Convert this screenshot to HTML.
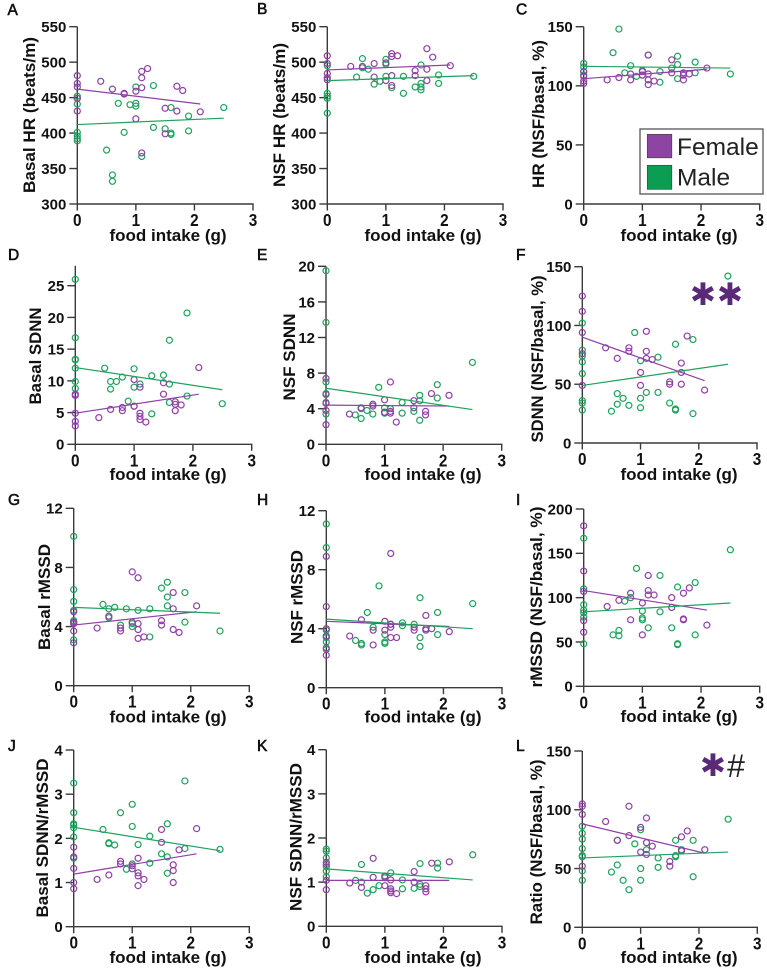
<!DOCTYPE html>
<html lang="en">
<head>
<meta charset="utf-8">
<title>Food intake correlations</title>
<style>
html,body{margin:0;padding:0;background:#fff;width:767px;height:971px;overflow:hidden}
svg{display:block;font-family:"Liberation Sans",sans-serif}
</style>
</head>
<body>
<svg id="figure" width="767" height="971" viewBox="0 0 767 971" xmlns="http://www.w3.org/2000/svg">
  <g>
    <rect x="640" y="129" width="123" height="65" fill="#fff" stroke="#555" stroke-width="1.3"/>
    <rect x="647.3" y="134.3" width="24.5" height="23.5" fill="#8e44a2" stroke="#444" stroke-width="0.7"/>
    <text x="677" y="155" font-size="24.5" fill="#222">Female</text>
    <rect x="647.3" y="165.3" width="24.5" height="24" fill="#0b9e52" stroke="#444" stroke-width="0.7"/>
    <text x="677" y="185.7" font-size="24.5" fill="#222">Male</text>
  </g>
  <text x="703" y="305" font-size="31" text-anchor="middle" fill="#5a2a78" style="font-family:'DejaVu Sans',sans-serif">✱</text>
  <text x="730" y="305" font-size="31" text-anchor="middle" fill="#5a2a78" style="font-family:'DejaVu Sans',sans-serif">✱</text>
  <text x="713" y="776" font-size="31" text-anchor="middle" fill="#5a2a78" style="font-family:'DejaVu Sans',sans-serif">✱</text>
  <text x="736" y="777" font-size="32" text-anchor="middle" fill="#222">#</text>
</svg>
<script>
const xTicks = [0, 1, 2, 3];

const aTicks = [300, 350, 400, 450, 500, 550];
const aFemale = [[0,481],[0,470],[0,465],[0,449],[0,431],[.4,473],[.6,462],[.8,456],[.8,455],[1,459],[1,420],[1.1,487],[1.1,478],[1.1,464],[1.1,372],[1.2,491],[1.5,435],[1.5,399],[1.7,466],[1.7,431],[1.8,460],[2.1,430]];
const aMale = [[0,452],[0,449],[0,441],[0,401],[0,396],[0,392],[0,389],[.5,376],[.6,341],[.6,332],[.7,442],[.8,401],[.9,440],[1,465],[1,442],[1,438],[1.1,367],[1.3,467],[1.3,408],[1.5,406],[1.6,436],[1.6,400],[1.6,398],[1.9,424],[1.9,403],[2.5,436]];
const aFemaleFit = [[0,462],[2.1,441]];
const aMaleFit = [[0,412],[2.5,421]];

const bTicks = [300, 350, 400, 450, 500, 550];
const bFemale = [[0,509],[0,498],[0,484],[0,478],[0,475],[.4,494],[.6,494],[.8,498],[.8,479],[1,499],[1,474],[1.1,512],[1.1,508],[1.1,481],[1.1,467],[1.2,509],[1.5,488],[1.5,481],[1.7,519],[1.7,490],[1.7,474],[1.8,507],[2.1,495]];
const bMale = [[0,495],[0,456],[0,452],[0,449],[0,428],[.5,479],[.6,505],[.6,492],[.7,490],[.8,469],[.9,473],[1,504],[1,497],[1,480],[1.1,464],[1.3,480],[1.3,456],[1.5,465],[1.6,496],[1.6,470],[1.6,465],[1.6,461],[1.9,482],[1.9,470],[2.5,480]];
const bFemaleFit = [[0,489],[2.1,496]];
const bMaleFit = [[0,474],[2.5,481]];

const cTicks = [0, 50, 100, 150];
const cFemale = [[0,112],[0,108],[0,104],[0,102],[.4,105],[.6,107],[.8,110],[.8,105],[1,112],[1,109],[1.1,126],[1.1,110],[1.1,105],[1.1,101],[1.2,104],[1.5,122],[1.5,111],[1.7,111],[1.7,109],[1.7,105],[1.8,110],[2.1,115]];
const cMale = [[0,119],[0,116],[0,112],[0,109],[.5,128],[.6,148],[.7,111],[.8,117],[.9,108],[1,113],[1,109],[1.1,126],[1.3,112],[1.3,103],[1.5,115],[1.6,125],[1.6,118],[1.6,106],[1.9,120],[1.9,111],[2.5,110]];
const cFemaleFit = [[0,106],[2.1,114]];
const cMaleFit = [[0,116.5],[2.5,115]];

const dTicks = [0, 5, 10, 15, 20, 25];
const dFemale = [[0,7.9],[0,7.7],[0,4.9],[0,3.6],[0,2.9],[.4,4.2],[.6,5.5],[.8,5.8],[.8,5.3],[1,10.2],[1,6],[1.1,9],[1.1,4.9],[1.1,4.4],[1.1,3.9],[1.2,3.5],[1.5,9.7],[1.5,7.9],[1.7,6.7],[1.7,6.3],[1.7,5.3],[1.8,6.2],[2.1,12.1]];
const dMale = [[0,26],[0,16.8],[0,13.4],[0,13.3],[0,12],[0,9.9],[0,8.8],[.5,12],[.6,9.9],[.6,8.7],[.7,9.9],[.8,10.6],[.9,6.8],[1,11.9],[1,9],[1,6],[1.1,9.5],[1.3,10.8],[1.3,4.8],[1.5,10.9],[1.6,16.4],[1.6,9.5],[1.6,6.6],[1.9,20.7],[1.9,7.6],[2.5,6.4]];
const dFemaleFit = [[0,4.9],[2.1,7.9]];
const dMaleFit = [[0,12.1],[2.5,8.6]];

const eTicks = [0, 4, 8, 12, 16, 20];
const eFemale = [[0,7.4],[0,5.6],[0,4.6],[0,3.8],[0,2.2],[.4,3.4],[.6,4.1],[.8,4.5],[.8,4.3],[1,5],[1,3.6],[1.1,7],[1.1,3.7],[1.1,3.5],[1.2,2.5],[1.5,4.9],[1.5,4.1],[1.7,3.7],[1.7,3.3],[1.8,5.7],[2.1,5.5]];
const eMale = [[0,19.5],[0,13.7],[0,7],[0,5.7],[0,4.7],[0,3.4],[.5,3.3],[.6,4],[.6,2.9],[.7,3.8],[.8,3.4],[.9,6.4],[1,4.1],[1,3.6],[1,3.5],[1.1,4],[1.3,4.7],[1.3,3.5],[1.5,3.7],[1.6,5.5],[1.6,4.9],[1.6,2.7],[1.9,6.7],[1.9,5.2],[2.5,9.2]];
const eFemaleFit = [[0,4.4],[2.1,4.3]];
const eMaleFit = [[0,6.3],[2.5,3.9]];

const fTicks = [0, 50, 100, 150];
const fFemale = [[0,125],[0,112],[0,94],[0,76],[0,49],[.4,81],[.6,72],[.8,81],[.8,78],[1,60],[1,49],[1.1,95],[1.1,78],[1.1,72],[1.2,71],[1.5,52],[1.5,50],[1.7,68],[1.7,60],[1.7,50],[1.8,91],[2.1,45]];
const fMale = [[0,102],[0,79],[0,74],[0,69],[0,59],[0,36],[0,34],[0,28],[.5,27],[.6,42],[.6,33],[.7,38],[.8,32],[.9,94],[1,70],[1,38],[1,30],[1.1,43],[1.3,73],[1.3,43],[1.5,34],[1.6,84],[1.6,29],[1.6,28],[1.9,88],[1.9,25],[2.5,142]];
const fFemaleFit = [[0,90],[2.1,53]];
const fMaleFit = [[0,49],[2.5,67]];

const gTicks = [0, 4, 8, 12];
const gFemale = [[0,5],[0,4.3],[0,4.2],[0,3.7],[0,2.9],[.4,3.9],[.6,4.7],[.8,3.9],[.8,3.7],[1,7.7],[1,4.3],[1.1,7.3],[1.1,4.2],[1.1,3.8],[1.1,3.2],[1.2,3.3],[1.5,4.4],[1.5,4.1],[1.7,6.3],[1.7,5.2],[1.7,3.8],[1.8,3.6],[2.1,5.4]];
const gMale = [[0,10.1],[0,6.5],[0,5.7],[0,5.1],[0,4.4],[0,4.2],[0,3.1],[.5,5.5],[.6,5.2],[.6,4.6],[.7,5.3],[.8,4.1],[.9,5.2],[1,4.2],[1,4],[1.1,5.1],[1.3,5.2],[1.3,3.3],[1.5,6.6],[1.6,7],[1.6,6],[1.6,5.4],[1.9,6.3],[1.9,4.3],[2.5,3.7]];
const gFemaleFit = [[0,4.1],[2.1,5]];
const gMaleFit = [[0,5.3],[2.5,4.9]];

const hTicks = [0, 4, 8, 12];
const hFemale = [[0,8.9],[0,5.5],[0,4],[0,3.5],[0,2.7],[0,2.2],[.4,3.5],[.6,4.6],[.8,3.9],[.8,2.9],[1,4.5],[1,3.9],[1.1,9.1],[1.1,4.3],[1.1,4.1],[1.1,3.4],[1.2,3.4],[1.5,4.1],[1.5,3.9],[1.7,4.9],[1.7,4],[1.7,3.9],[1.8,4],[2.1,3.8]];
const hMale = [[0,11.1],[0,9.5],[0,3.9],[0,3.5],[0,3.4],[0,3.1],[0,2.6],[.5,3.2],[.6,3],[.6,2.9],[.7,5.1],[.8,4.1],[.9,6.9],[1,3.6],[1,3.1],[1,3],[1.1,4.3],[1.3,4.4],[1.3,4.2],[1.5,4.3],[1.6,6.1],[1.6,3.4],[1.6,2.8],[1.9,5.1],[1.9,3.6],[2.5,5.7]];
const hFemaleFit = [[0,4.5],[2.1,4.15]];
const hMaleFit = [[0,4.65],[2.5,4]];

const iTicks = [0, 50, 100, 150, 200];
const iFemale = [[0,181],[0,130],[0,107],[0,74],[0,61],[.4,90],[.6,97],[.8,105],[.8,75],[1,94],[1,58],[1.1,125],[1.1,108],[1.1,103],[1.2,103],[1.5,100],[1.5,89],[1.7,105],[1.7,76],[1.7,75],[1.8,111],[2.1,69]];
const iMale = [[0,167],[0,110],[0,92],[0,86],[0,83],[0,78],[0,48],[.5,58],[.6,63],[.6,57],[.7,96],[.8,100],[.9,133],[1,85],[1,77],[1,75],[1.1,66],[1.3,125],[1.3,84],[1.5,66],[1.6,112],[1.6,48],[1.6,47],[1.9,117],[1.9,58],[2.5,154]];
const iFemaleFit = [[0,108],[2.1,86]];
const iMaleFit = [[0,84],[2.5,94]];

const jTicks = [0, 1, 2, 3, 4];
const jFemale = [[0,1.8],[0,1.58],[0,1.32],[0,1],[0,.86],[.4,1.07],[.6,1.17],[.8,1.48],[.8,1.42],[1,1.38],[1,1.31],[1.1,1.55],[1.1,1.22],[1.1,1.15],[1.1,.93],[1.2,1.07],[1.5,2.2],[1.5,1.91],[1.7,1.4],[1.7,1.27],[1.7,1],[1.8,1.74],[2.1,2.22]];
const jMale = [[0,3.25],[0,2.58],[0,2.33],[0,2.3],[0,2.24],[0,2.03],[0,1.55],[.5,2.2],[.6,1.9],[.6,1.88],[.7,1.85],[.8,2.58],[.9,1.3],[1,2.77],[1,2.27],[1,1.42],[1.1,1.86],[1.3,2.05],[1.3,1.44],[1.5,1.65],[1.6,2.33],[1.6,1.58],[1.6,1.21],[1.9,3.3],[1.9,1.77],[2.5,1.75]];
const jFemaleFit = [[0,1.19],[2.1,1.65]];
const jMaleFit = [[0,2.25],[2.5,1.72]];

const kTicks = [0, 1, 2, 3, 4];
const kFemale = [[0,1.45],[0,1.4],[0,1.04],[0,.83],[.4,.98],[.6,.88],[.8,1.54],[.8,1.11],[1,1.14],[1,.92],[1.1,1.05],[1.1,.85],[1.1,.8],[1.1,.76],[1.2,.74],[1.5,1.24],[1.5,1],[1.7,.92],[1.7,.85],[1.7,.78],[1.8,1.43],[2.1,1.46]];
const kMale = [[0,1.75],[0,1.7],[0,1.55],[0,1.35],[0,1.25],[0,1.12],[.5,1.04],[.6,1.4],[.6,1],[.7,.75],[.8,.83],[.9,.92],[1,1.13],[1,1.1],[1.1,1.21],[1.3,1.05],[1.3,.85],[1.5,.86],[1.6,1.42],[1.6,.95],[1.6,.9],[1.9,1.43],[1.9,1.32],[2.5,1.62]];
const kFemaleFit = [[0,1.04],[2.1,1.04]];
const kMaleFit = [[0,1.3],[2.5,1.05]];

const lTicks = [0, 50, 100, 150];
const lFemale = [[0,105],[0,103],[0,96],[0,52],[.4,90],[.6,74],[.8,103],[.8,78],[1,85],[1,64],[1.1,93],[1.1,72],[1.1,62],[1.2,69],[1.5,56],[1.5,52],[1.7,77],[1.7,65],[1.8,82],[2.1,66]];
const lMale = [[0,86],[0,80],[0,75],[0,67],[0,61],[0,60],[0,48],[0,40],[.5,47],[.6,74],[.6,53],[.7,40],[.8,32],[.9,71],[1,83],[1,50],[1,40],[1.1,66],[1.3,59],[1.3,51],[1.6,74],[1.6,61],[1.6,60],[1.7,66],[1.9,74],[1.9,43],[2.5,92]];
const lFemaleFit = [[0,88],[2.1,63]];
const lMaleFit = [[0,59],[2.5,64]];

/* Layout of each panel (pixel frame and captions); the plotted numbers stay in the arrays above. */
const panels = [
  {id:'a',letter:'A',lx:7.5,ly:15,x0:77.3,x3:253,y0:204,yT:26.7,ticks:aTicks,axisMax:550,female:aFemale,male:aMale,ff:aFemaleFit,mf:aMaleFit,title:'Basal HR (beats/m)',tx:35,ty:115,tl:156,xc:168,xb:241},
  {id:'b',letter:'B',lx:257,ly:14,x0:327.3,x3:503,y0:204,yT:26.7,ticks:bTicks,axisMax:550,female:bFemale,male:bMale,ff:bFemaleFit,mf:bMaleFit,title:'NSF HR (beats/m)',tx:285,ty:115,tl:144,xc:423,xb:241},
  {id:'c',letter:'C',lx:516,ly:14.5,x0:583.7,x3:759.7,y0:204,yT:26.7,ticks:cTicks,axisMax:150,female:cFemale,male:cMale,ff:cFemaleFit,mf:cMaleFit,title:'HR (NSF/basal, %)',tx:544,ty:114,tl:148,xc:679,xb:241},
  {id:'d',letter:'D',lx:8,ly:260,x0:75.3,x3:251.7,y0:444.3,yT:285.7,ticks:dTicks,axisMax:28.15,female:dFemale,male:dMale,ff:dFemaleFit,mf:dMaleFit,title:'Basal SDNN',tx:41,ty:356,tl:97,xc:168,xb:480},
  {id:'e',letter:'E',lx:257,ly:260,x0:326,x3:501.7,y0:444.3,yT:266.3,ticks:eTicks,axisMax:20,female:eFemale,male:eMale,ff:eFemaleFit,mf:eMaleFit,title:'NSF SDNN',tx:295,ty:357,tl:87,xc:423,xb:480},
  {id:'f',letter:'F',lx:516,ly:260,x0:582.3,x3:757,y0:443,yT:266.7,ticks:fTicks,axisMax:150,female:fFemale,male:fMale,ff:fFemaleFit,mf:fMaleFit,title:'SDNN (NSF/basal, %)',tx:543,ty:359,tl:167,xc:679,xb:480},
  {id:'g',letter:'G',lx:8,ly:505,x0:73.7,x3:249.3,y0:685.7,yT:508.3,ticks:gTicks,axisMax:12,female:gFemale,male:gMale,ff:gFemaleFit,mf:gMaleFit,title:'Basal rMSSD',tx:50,ty:597,tl:106,xc:168,xb:722.7},
  {id:'h',letter:'H',lx:257,ly:505,x0:326.3,x3:502,y0:687.7,yT:510.7,ticks:hTicks,axisMax:12,female:hFemale,male:hMale,ff:hFemaleFit,mf:hMaleFit,title:'NSF rMSSD',tx:302.5,ty:597,tl:94,xc:423,xb:722.7},
  {id:'i',letter:'I',lx:516,ly:505,x0:583.7,x3:759.7,y0:686.3,yT:509,ticks:iTicks,axisMax:200,female:iFemale,male:iMale,ff:iFemaleFit,mf:iMaleFit,title:'rMSSD (NSF/basal, %)',tx:542,ty:597,tl:181,xc:679,xb:722},
  {id:'j',letter:'J',lx:8,ly:751,x0:73.7,x3:249.3,y0:926.7,yT:750,ticks:jTicks,axisMax:4,female:jFemale,male:jMale,ff:jFemaleFit,mf:jMaleFit,title:'Basal SDNN/rMSSD',tx:48,ty:838,tl:159,xc:168,xb:963},
  {id:'k',letter:'K',lx:257,ly:751,x0:326.3,x3:502,y0:926.3,yT:749.7,ticks:kTicks,axisMax:4,female:kFemale,male:kMale,ff:kFemaleFit,mf:kMaleFit,title:'NSF SDNN/rMSSD',tx:301.5,ty:837,tl:148,xc:423,xb:963},
  {id:'l',letter:'L',lx:516,ly:751,x0:582.3,x3:757.3,y0:927.3,yT:751,ticks:lTicks,axisMax:150,female:lFemale,male:lMale,ff:lFemaleFit,mf:lMaleFit,title:'Ratio (NSF/basal, %)',tx:542,ty:842,tl:165,xc:679,xb:963}
];

const SVGNS = 'http://www.w3.org/2000/svg';
const PURPLE = '#8f3fa6';
const GREEN = '#1ea25c';
const AXIS = '#3a3a3a';
const TEXT = '#111';

function make(tag, attrs, parent, content) {
  const node = document.createElementNS(SVGNS, tag);
  for (const key in attrs) node.setAttribute(key, attrs[key]);
  if (content !== undefined) node.textContent = content;
  parent.appendChild(node);
  return node;
}
function xScale(p, v) {
  return p.x0 + (v - xTicks[0]) / (xTicks[xTicks.length - 1] - xTicks[0]) * (p.x3 - p.x0);
}
function yScale(p, v) {
  const lo = p.ticks[0];
  const hi = p.ticks[p.ticks.length - 1];
  return p.y0 - (v - lo) / (hi - lo) * (p.y0 - p.yT);
}
function drawScatter(p, group, points, colour, sex) {
  points.forEach(function (pt) {
    const dot = make('circle', {cx: xScale(p, pt[0]), cy: yScale(p, pt[1]), r: 3, fill: 'none', stroke: colour, 'stroke-width': 1.2}, group);
    
    
  });
}
function drawFit(p, group, fit, colour, sex) {
  const line = make('line', {x1: xScale(p, fit[0][0]), y1: yScale(p, fit[0][1]), x2: xScale(p, fit[1][0]), y2: yScale(p, fit[1][1]), stroke: colour, 'stroke-width': 1.2}, group);
  
  
}

const figure = document.getElementById('figure');
const firstStatic = figure.firstElementChild;

panels.forEach(function (p) {
  const g = make('g', {}, figure);
  figure.insertBefore(g, firstStatic);
  
  

  const letter = make('text', {x: p.lx, y: p.ly, 'font-size': 15.5, fill: TEXT, stroke: TEXT, 'stroke-width': 0.6}, g, p.letter);
  
  

  const yAxis = make('line', {x1: p.x0, x2: p.x0, y1: p.y0, y2: yScale(p, p.axisMax), stroke: AXIS, 'stroke-width': 1.4}, g);
  
  

  const xAxis = make('line', {x1: p.x0 - 0.7, x2: p.x3 + 0.7, y1: p.y0, y2: p.y0, stroke: AXIS, 'stroke-width': 1.4}, g);
  
  

  p.ticks.forEach(function (t) {
    const y = yScale(p, t);
    const tick = make('line', {x1: p.x0 - 8, x2: p.x0, y1: y, y2: y, stroke: AXIS, 'stroke-width': 1.4}, g);
    
    
    const label = make('text', {x: p.x0 - 11, y: y + 5.4, 'font-size': 15, 'font-weight': 'bold', 'text-anchor': 'end', fill: TEXT}, g, String(t));
    
    
  });

  xTicks.forEach(function (t) {
    const x = xScale(p, t);
    const tick = make('line', {x1: x, x2: x, y1: p.y0, y2: p.y0 + 6.5, stroke: AXIS, 'stroke-width': 1.4}, g);
    
    
    const label = make('text', {transform: 'translate(' + x + ',' + (p.y0 + 22) + ') scale(0.85,1)', 'font-size': 18, 'font-weight': 'bold', 'text-anchor': 'middle', fill: TEXT}, g, String(t));
    
    
  });

  const xTitle = make('text', {x: p.xc, y: p.xb, 'font-size': 17, 'font-weight': 'bold', 'text-anchor': 'middle', fill: TEXT}, g, 'food intake (g)');
  
  

  const yTitle = make('text', {transform: 'translate(' + p.tx + ',' + p.ty + ') rotate(-90)', 'font-size': 17, 'font-weight': 'bold', 'text-anchor': 'middle', fill: TEXT, textLength: p.tl, lengthAdjust: 'spacingAndGlyphs'}, g, p.title);
  
  

  drawScatter(p, g, p.male, GREEN, 'male');
  drawScatter(p, g, p.female, PURPLE, 'female');
  drawFit(p, g, p.ff, PURPLE, 'female');
  drawFit(p, g, p.mf, GREEN, 'male');
});
</script>
</body>
</html>
